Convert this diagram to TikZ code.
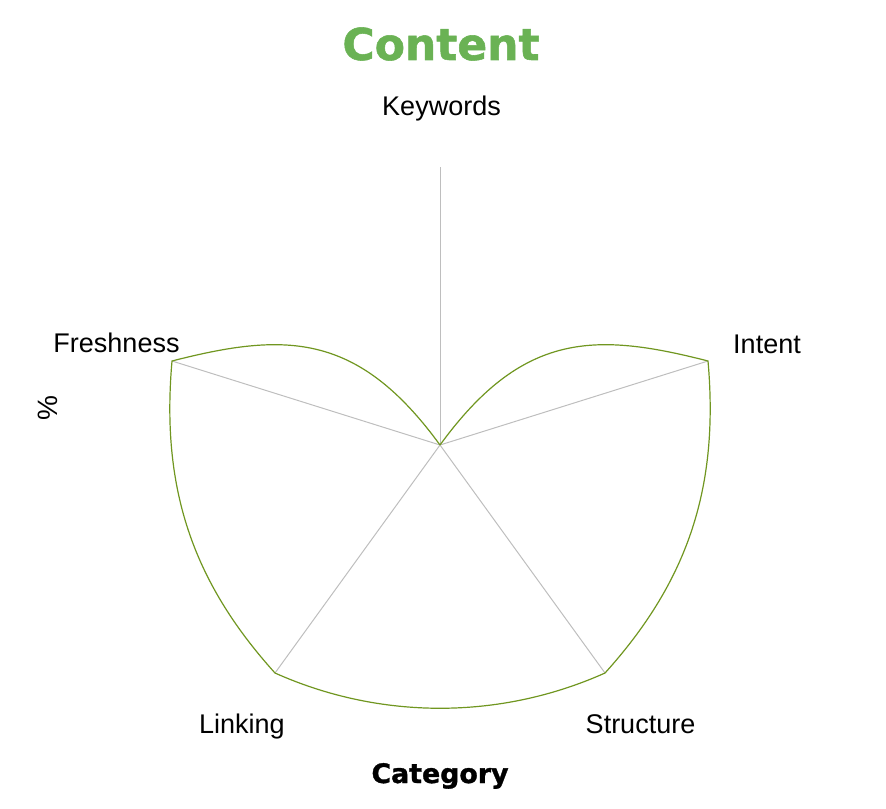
\documentclass[tikz,border=0pt]{standalone}
\usepackage{fontspec}
\setmainfont{Liberation Sans}
\newfontfamily\heavyfont{DejaVu Sans}[BoldFeatures={FakeBold=1.2}]
\usepackage{tikz}
\usetikzlibrary{positioning}
\usepackage{xcolor}
\definecolor{titlegreen}{RGB}{106,178,84}
\definecolor{curvegreen}{RGB}{112,150,32}
\definecolor{axisgray}{RGB}{190,190,190}
\tikzstyle{axisline} = [line width=0.5pt,color=axisgray]
\tikzstyle{scorecurve} = [line width=0.6pt,color=curvegreen]
\tikzstyle{axislabel} = [inner sep=0pt,anchor=base,font=\fontsize{13.5}{16}\selectfont]
\tikzstyle{titlelabel} = [inner sep=0pt,anchor=base,font=\heavyfont\bfseries\fontsize{22}{26}\selectfont,color=titlegreen]

\begin{document}
\begin{tikzpicture}[x=0.5pt,y=-0.5pt]
\useasboundingbox (0,0) rectangle (886,808);

% Radar axes
\coordinate (O) at (440,445);
\coordinate (kw) at (440,167);
\coordinate (int) at (708,361);
\coordinate (str) at (605,673);
\coordinate (lnk) at (275,673);
\coordinate (fr) at (172,361);

\foreach \p in {kw,int,str,lnk,fr}
  \draw[axisline] (O) -- (\p);

% Scores
\draw[scorecurve] (O) .. controls (522.6,331.6) and (595,332) .. (int)
  .. controls (719,486) and (689,580) .. (str)
  .. controls (500,720) and (380,720) .. (lnk)
  .. controls (191,580) and (161,486) .. (fr)
  .. controls (285,332) and (357.4,331.6) .. (O);

% Labels
\node[titlelabel] (title) at (441,60) {Content};
\node[axislabel] (kwlabel) at (441.5,115) {Keywords};
\node[axislabel] (intlabel) at (767,353) {Intent};
\node[axislabel] (frlabel) at (116.5,352) {Freshness};
\node[axislabel] (lnklabel) at (242,733) {Linking};
\node[axislabel] (strlabel) at (640.5,733) {Structure};
\node[titlelabel,color=black,font=\heavyfont\bfseries\fontsize{13.4}{16}\selectfont] (xlabel) at (440,783) {Category};
\node[inner sep=0pt,rotate=90,font=\fontsize{14}{16}\selectfont] (ylabel) at (48,408) {\%};
\end{tikzpicture}
\end{document}
